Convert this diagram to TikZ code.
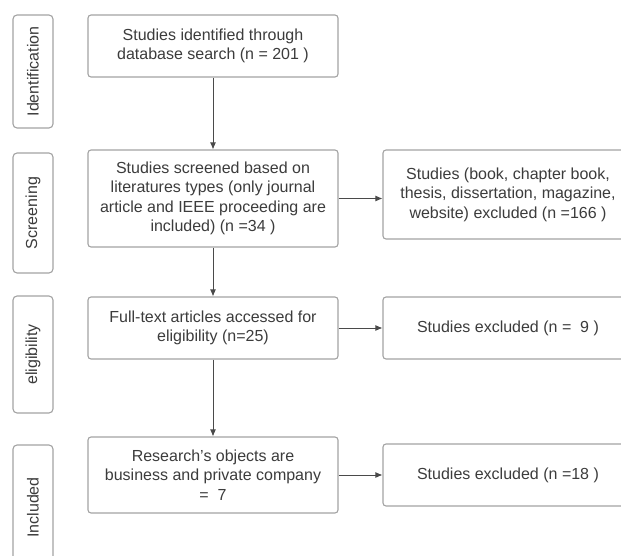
\documentclass[tikz,border=0pt]{standalone}
\usepackage{fontspec}
\setmainfont{Liberation Sans}
\usetikzlibrary{arrows.meta}
\definecolor{boxline}{HTML}{A3A3A3}
\definecolor{txt}{HTML}{3C3C3C}
\definecolor{arr}{HTML}{4A4A4A}
\tikzset{
  flowbox/.style={draw=boxline, line width=1.1pt, rounded corners=3pt, fill=white,
    minimum width=250pt, inner sep=0pt, align=center, text=txt,
    font=\fontsize{16}{19.5}\selectfont},
  stagebox/.style={draw=boxline, line width=1.1pt, rounded corners=4pt,
    minimum width=40pt, inner sep=0pt, text=txt},
  stagelabel/.style={rotate=90, text=txt, font=\fontsize{16}{19}\selectfont, inner sep=0pt},
  conn/.style={draw=arr, line width=0.9pt, -{Latex[length=7pt,width=6pt]}}
}
\begin{document}
\begin{tikzpicture}[x=1pt,y=-1pt]
\useasboundingbox (0,0) rectangle (621,556);
\fill[white] (0,0) rectangle (621,556);
\clip (0,0) rectangle (621,556);
% stage boxes
\node[stagebox, minimum height=113pt] (s1) at (33,71.5) {};
\node[stagelabel] (l1) at (s1.center) {Identification};
\node[stagebox, minimum height=120pt] (s2) at (33,213) {};
\node[stagelabel] (l2) at (s2.center) {Screening};
\node[stagebox, minimum height=117pt] (s3) at (33,354.5) {};
\node[stagelabel] (l3) at (s3.center) {eligibility};
\node[stagebox, minimum height=125pt] (s4) at (33,507.5) {};
\node[stagelabel] (l4) at (s4.center) {Included};
% main boxes
\node[flowbox, minimum height=62pt] (b1) at (213,46) {Studies identified through\\database search (n = 201 )};
\node[flowbox, minimum height=97pt] (b2) at (213,198.5) {Studies screened based on\\literatures types (only journal\\article and IEEE proceeding are\\included) (n =34 )};
\node[flowbox, minimum height=62pt] (b3) at (213,328) {Full-text articles accessed for\\eligibility (n=25)};
\node[flowbox, minimum height=76pt] (b4) at (213,475) {Research's objects are\\business and private company\\=\ \ 7};
% right boxes
\node[flowbox, minimum height=89pt] (r2) at (508,194.5) {Studies (book, chapter book,\\thesis, dissertation, magazine,\\website) excluded (n =166 )};
\node[flowbox, minimum height=62pt] (r3) at (508,328) {Studies excluded (n =\ \ 9 )};
\node[flowbox, minimum height=62pt] (r4) at (508,475) {Studies excluded (n =18 )};
% connectors
\draw[conn] (b1) -- (b2);
\draw[conn] (b2) -- (b3);
\draw[conn] (b3) -- (b4);
\draw[conn] (b2.east) -- (b2.east -| r2.west);
\draw[conn] (b3) -- (r3);
\draw[conn] (b4) -- (r4);
\end{tikzpicture}
\end{document}
